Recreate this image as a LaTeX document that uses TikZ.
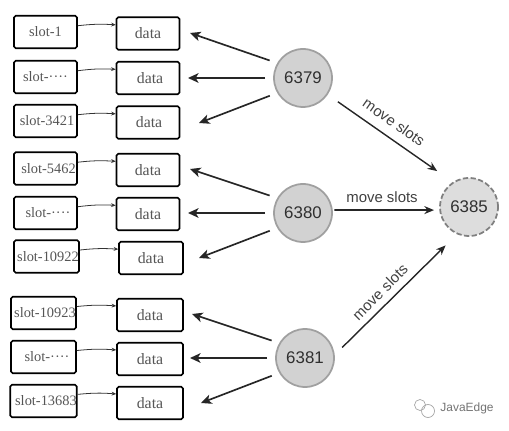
\documentclass[tikz,border=0pt]{standalone}
\usepackage{fontspec}
\setmainfont{Liberation Serif}
\setsansfont{Liberation Sans}
\usetikzlibrary{arrows.meta}
\definecolor{boxtext}{HTML}{555555}
\definecolor{portfill}{HTML}{D2D2D2}
\definecolor{portline}{HTML}{A0A0A0}
\definecolor{porttext}{HTML}{303030}
\tikzset{
        slotbox/.style={draw, rectangle, rounded corners=1pt, line width=0.9pt, inner sep=0pt, minimum width=1.26cm, minimum height=0.65cm, text=boxtext, font=\fontsize{8.2}{10}\selectfont},
        databox/.style={slotbox, minimum width=1.26cm, font=\fontsize{9}{11}\selectfont},
        portnode/.style={draw=portline, fill=portfill, circle, line width=1pt, inner sep=0pt, minimum size=1.16cm, text=porttext, font=\sffamily\fontsize{9.6}{11}\selectfont},
        newport/.style={portnode, draw=black!50, fill=portfill!75, dashed, dash pattern=on 3pt off 1.4pt},
        slotarrow/.style={-{Stealth[length=2.6pt,width=2.2pt]}, line width=0.45pt, black!80, bend left=5},
        dataarrow/.style={-{Stealth[length=6pt,width=5.5pt,inset=1.6pt]}, line width=0.95pt, black!85, shorten <=4.5pt},
        movearrow/.style={-{Stealth[length=5.5pt,width=4.5pt]}, line width=0.8pt, black!85},
        movelabel/.style={inner sep=0pt, text=black!75, font=\sffamily\fontsize{8.5}{10}\selectfont}
}
\begin{document}
\begin{tikzpicture}[x=0.02cm, y=-0.02cm]
        \useasboundingbox (0,0) rectangle (509,431);
        \node[slotbox] (slotA) at (45.5,32) {slot-1};
        \node[databox] (dataA) at (148,33.5) {data};
        \node[slotbox] (slotB) at (45.5,77) {slot-····};
        \node[databox] (dataB) at (148,78) {\hspace*{2.3pt}data};
        \node[slotbox] (slotC) at (45.5,121) {\hspace*{1.7pt}slot-3421};
        \node[databox] (dataC) at (148,122.5) {\hspace*{1.2pt}data};
        \node[slotbox] (slotD) at (45.5,168.5) {\hspace*{3.4pt}slot-5462};
        \node[databox] (dataD) at (148,170) {data};
        \node[slotbox] (slotE) at (45.5,213) {\hspace*{2.8pt}slot-····};
        \node[databox] (dataE) at (148,214) {data};
        \node[slotbox, minimum width=1.3cm] (slotF) at (46.5,256.5) {\hspace*{1.7pt}slot-10922};
        \node[databox, minimum width=1.28cm] (dataF) at (151,258) {data};
        \node[slotbox, minimum width=1.3cm] (slotG) at (43.5,313) {\hspace*{1.7pt}slot-10923};
        \node[databox, minimum width=1.32cm] (dataG) at (150,315) {data};
        \node[slotbox, minimum width=1.3cm] (slotH) at (43.5,357) {\hspace*{4pt}slot-····};
        \node[databox, minimum width=1.32cm] (dataH) at (150,359) {data};
        \node[slotbox, minimum width=1.3cm] (slotI) at (43.5,401) {\hspace*{2.8pt}slot-13683};
        \node[databox, minimum width=1.32cm] (dataI) at (150,403) {data};

        \node[portnode] (port79) at (303,78) {6379};
        \node[portnode] (port80) at (303,213) {6380};
        \node[portnode] (port81) at (305,358) {6381};
        \node[newport] (port85) at (469,207) {6385};

        \coordinate (tipA) at (190,33);
        \coordinate (tipB) at (188,78);
        \coordinate (tipC) at (199,123);
        \coordinate (tipD) at (190,169);
        \coordinate (tipE) at (188,213);
        \coordinate (tipF) at (199,258);
        \coordinate (tipG) at (192,314);
        \coordinate (tipH) at (190,358);
        \coordinate (tipI) at (201,403);

        \draw[slotarrow] (slotA.11) to (dataA.165);
        \draw[slotarrow] (slotB.11) to (dataB.165);
        \draw[slotarrow] (slotC.11) to (dataC.165);
        \draw[slotarrow] (slotD.11) to (dataD.165);
        \draw[slotarrow] (slotE.11) to (dataE.165);
        \draw[slotarrow] (slotF.11) to (dataF.165);
        \draw[slotarrow] (slotG.11) to (dataG.165);
        \draw[slotarrow] (slotH.11) to (dataH.165);
        \draw[slotarrow] (slotI.11) to (dataI.165);

        \draw[dataarrow] (port79.150) -- (tipA);
        \draw[dataarrow] (port79.west) -- (tipB);
        \draw[dataarrow] (port79.210) -- (tipC);
        \draw[dataarrow] (port80.150) -- (tipD);
        \draw[dataarrow] (port80.west) -- (tipE);
        \draw[dataarrow] (port80.210) -- (tipF);
        \draw[dataarrow] (port81.150) -- (tipG);
        \draw[dataarrow] (port81.west) -- (tipH);
        \draw[dataarrow] (port81.210) -- (tipI);

        \draw[movearrow, shorten <=7pt, shorten >=10.8pt] (port79.-34) -- (port85.123);
        \draw[movearrow, line width=1pt, shorten <=1pt, shorten >=3pt] (port80.6) -- (port85.186);
        \draw[movearrow, shorten <=6pt, shorten >=9pt] (port81.6.5) -- (port85.246.5);

        \node[movelabel, rotate=-35] (moveA) at (394,122) {move slots};
        \node[movelabel] (moveB) at (382,197) {move slots};
        \node[movelabel, rotate=45] (moveC) at (380,292) {move slots};

        \node[inner sep=0pt, text=black!55, font=\sffamily\fontsize{6.8}{8}\selectfont] (mark) at (467,408) {JavaEdge};
        \draw[black!35, line width=0.4pt] (420,405) circle (5.5);
        \draw[black!35, line width=0.4pt] (428,411) circle (6.5);
\end{tikzpicture}
\end{document}
